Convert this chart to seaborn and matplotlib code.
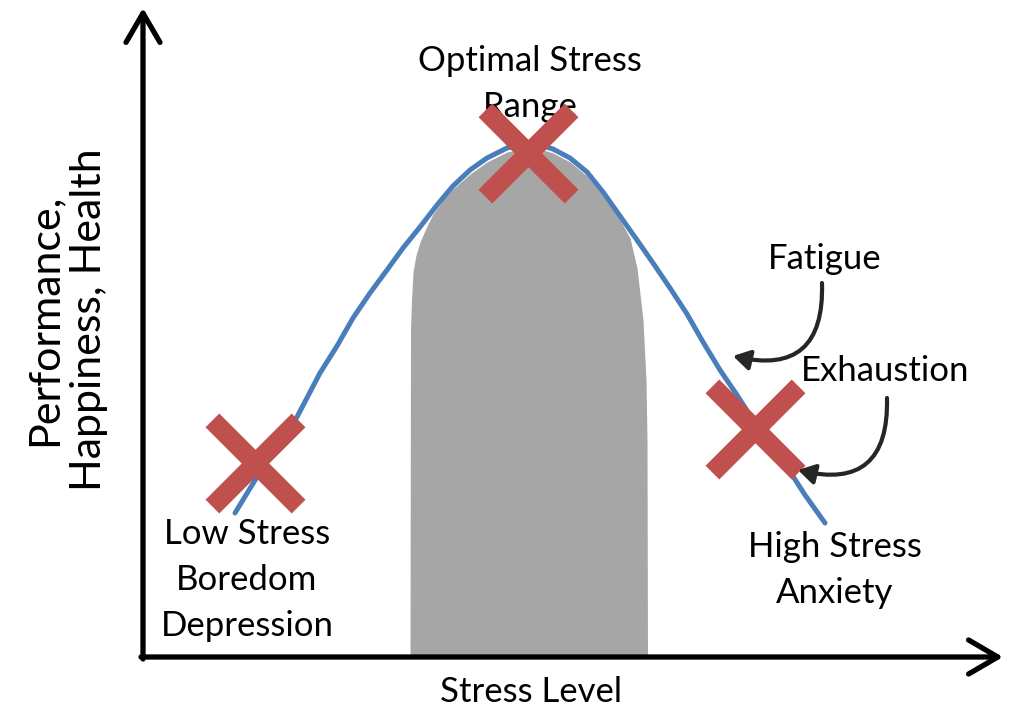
import matplotlib.pyplot as plt
import seaborn as sns
import numpy as np

# stress curve (x = stress level, y = pixel height from top)
stress = [235, 260, 297, 320, 337, 353, 370, 387, 403, 420, 437, 453, 470, 487, 507, 525, 540, 553, 570, 587, 603, 620, 637, 653, 670, 687, 703, 720, 737, 753, 770, 787, 805, 825]
perf = [513, 472, 417, 373, 346, 318, 293, 270, 248, 227, 205, 186, 170, 158, 148, 144, 145, 149, 158, 172, 192, 216, 240, 263, 288, 314, 342, 370, 395, 420, 444, 467, 495, 523]

# optimal range (grey area)
zone_x = [410, 410.5, 411.5, 413, 416, 420, 427, 433, 443, 453, 470, 487, 507, 525, 540, 553, 570, 587, 603, 620, 630, 637, 643, 646, 647, 647.5]
zone_top = [657, 330, 300, 272, 255, 242, 226, 214, 200, 189, 174, 162, 152, 148, 149, 153, 162, 176, 196, 220, 238, 268, 320, 380, 440, 657]

# red crosses
cross_x = [255, 528, 755]
cross_y = [463, 153, 429]

labels = ["Low Stress\nBoredom\nDepression", "Optimal Stress\nRange", "High Stress\nAnxiety", "Fatigue", "Exhaustion"]
label_x = [247, 530, 835, 825, 885]
label_y = [580, 84, 570, 259, 371]

sns.set_style("white")
plt.rcParams['font.family'] = ['Lato', 'DejaVu Sans']

fig = plt.figure(figsize=(10.09, 7.10), dpi=100)
ax = fig.add_axes([0, 0, 1, 1])
ax.set_xlim(0, 1009)
ax.set_ylim(710, 0)
ax.axis("off")

ax.fill_between(zone_x, zone_top, 657, color="#a6a6a6", lw=0, zorder=1)
sns.lineplot(x=stress, y=perf, ax=ax, color="#4a7ebb", lw=3.6, sort=False, zorder=2)

# labels (Range sits under the top cross)
for t, x, y in zip(labels, label_x, label_y):
    ax.text(x, y, t, ha="center", va="center", fontsize=25, linespacing=1.55, color="black", zorder=3)

sns.scatterplot(x=cross_x, y=cross_y, ax=ax, marker="x", s=3850, linewidth=14, color="#c0504d", zorder=4)

# axes arrows
head = "->,head_length=0.6,head_width=0.35"
ax.annotate("", xy=(143, 8), xytext=(143, 659),
            arrowprops=dict(arrowstyle=head, lw=3.8, color="black", mutation_scale=35,
                            shrinkA=0, shrinkB=0, capstyle="round", joinstyle="round"), zorder=5)
ax.annotate("", xy=(1003, 657), xytext=(141, 657),
            arrowprops=dict(arrowstyle=head, lw=3.8, color="black", mutation_scale=35,
                            shrinkA=0, shrinkB=0, capstyle="round", joinstyle="round"), zorder=5)

# curved pointers
for start, end in [((822, 283), (733, 356)), ((887, 398), (798, 470))]:
    ax.annotate("", xy=end, xytext=start,
                arrowprops=dict(arrowstyle="-|>,head_length=0.5,head_width=0.3",
                                connectionstyle="arc3,rad=-0.65", lw=3, color="#262626",
                                mutation_scale=20, shrinkA=0, shrinkB=0), zorder=5)

ax.text(531, 692, "Stress Level", ha="center", va="center", fontsize=25, color="black")
ax.text(67, 320, "Performance,\nHappiness, Health", ha="center", va="center",
        rotation=90, fontsize=31, linespacing=1.22, color="black")

fig.savefig("out.png", dpi=100)
